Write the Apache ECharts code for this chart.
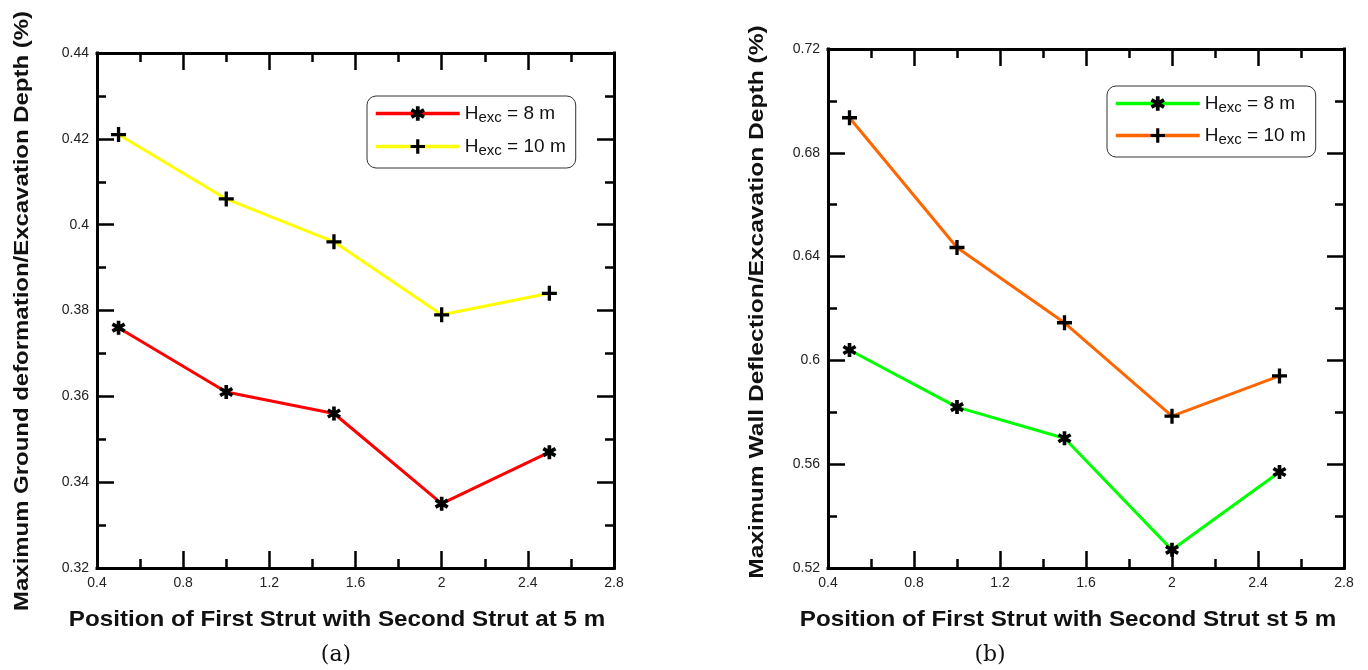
<!DOCTYPE html>
<html>
<head>
<meta charset="utf-8">
<script src="https://cdn.jsdelivr.net/npm/echarts@6/dist/echarts.min.js"></script>
<style>
html,body{margin:0;padding:0;background:#fff;}
#chart{width:1368px;height:670px;}
</style>
</head>
<body>
<div id="chart"></div>
<script>
// ---- data ----
var strutPos = [0.5, 1.0, 1.5, 2.0, 2.5];
var groundH8  = [0.376, 0.361, 0.356, 0.335, 0.347];
var groundH10 = [0.421, 0.406, 0.396, 0.379, 0.384];
var wallH8    = [0.604, 0.582, 0.570, 0.527, 0.557];
var wallH10   = [0.6935, 0.6435, 0.6145, 0.5785, 0.594];
var legendLabels = { a8: '8 m', a10: '10 m', b8: '8 m', b10: '10 m' };
var xTitleA = 'Position of First Strut with Second Strut at 5 m';
var xTitleB = 'Position of First Strut with Second Strut st 5 m';
var yTitleA = 'Maximum Ground deformation/Excavation Depth (%)';
var yTitleB = 'Maximum Wall Deflection/Excavation Depth (%)';

function pairs(xs, ys) { return xs.map(function (x, i) { return [x, ys[i]]; }); }

var FONT = '"Liberation Sans", Arial, sans-serif';
var STAR = 'path://M-1.3,-5 L1.3,-5 L1.3,5 L-1.3,5 Z M4.98,1.37 L3.68,3.62 L-4.98,-1.37 L-3.68,-3.62 Z M-3.68,3.62 L-4.98,1.37 L3.68,-3.62 L4.98,-1.37 Z';
var PLUS = 'path://M-1.1,-5 L1.1,-5 L1.1,-1.1 L5,-1.1 L5,1.1 L1.1,1.1 L1.1,5 L-1.1,5 L-1.1,1.1 L-5,1.1 L-5,-1.1 L-1.1,-1.1 Z';

function fmt(v) { return String(+v.toFixed(2)); }

var lineSt = { color: '#000', width: 3, cap: 'square' };
var tickSt = { color: '#000', width: 2.5 };

function frameAxis(kind, gi, pos, min, max, interval, len, showLine, showLabel) {
  return { type: 'value', gridIndex: gi, position: pos, min: min, max: max, interval: interval,
    splitLine: { show: false },
    axisLine: { show: showLine, onZero: false, lineStyle: lineSt },
    axisTick: { show: true, inside: true, length: len, lineStyle: tickSt },
    axisLabel: showLabel ? { show: true, color: '#222', fontSize: 14, fontFamily: FONT, margin: 8,
      formatter: fmt, showMinLabel: true, showMaxLabel: true } : { show: false } };
}
function xAxes(gi) {
  return [
    frameAxis('x', gi, 'bottom', 0.4, 2.8, 0.4, 17, true, true),
    frameAxis('x', gi, 'top', 0.4, 2.8, 0.4, 17, true, false),
    frameAxis('x', gi, 'bottom', 0.4, 2.8, 0.2, 9, false, false),
    frameAxis('x', gi, 'top', 0.4, 2.8, 0.2, 9, false, false)
  ];
}
function yAxes(gi, min, max, interval) {
  return [
    frameAxis('y', gi, 'left', min, max, interval, 17, true, true),
    frameAxis('y', gi, 'right', min, max, interval, 17, true, false),
    frameAxis('y', gi, 'left', min, max, interval / 2, 9, false, false),
    frameAxis('y', gi, 'right', min, max, interval / 2, 9, false, false)
  ];
}

var xs = xAxes(0).concat(xAxes(1));
var ys = yAxes(0, 0.32, 0.44, 0.02).concat(yAxes(1, 0.52, 0.72, 0.04));

function ser(name, xi, yi, data, color, symbol, size) {
  return { name: name, type: 'line', xAxisIndex: xi, yAxisIndex: yi, data: data,
    symbol: symbol, symbolSize: size, showSymbol: true,
    lineStyle: { color: color, width: 3 },
    itemStyle: { color: '#000' },
    emphasis: { disabled: true }, animation: false, z: 3 };
}

var legendRich = {
  h: { fontSize: 19, fontFamily: FONT, color: '#111' },
  s: { fontSize: 15, fontFamily: FONT, color: '#111', padding: [8, 0, 0, 0] },
  t: { fontSize: 19, fontFamily: FONT, color: '#111' }
};
function legendFmt(name) { return '{h|H}{s|exc}{t| = ' + legendLabels[name] + '}'; }

function legend(data, left, top, gap) {
  return { show: true, data: data, orient: 'vertical', left: left, top: top,
    itemWidth: 84, itemHeight: 18, itemGap: gap,
    padding: [8, 10, 10, 7],
    backgroundColor: '#fff', borderColor: '#333', borderWidth: 1, borderRadius: 9,
    lineStyle: { width: 3.5 },
    formatter: legendFmt, textStyle: { rich: legendRich, fontSize: 19 },
    selectedMode: false };
}

function txt(x, y, text, size, bold, family, rot, sx) {
  return { type: 'text', x: x, y: y, rotation: rot || 0, scaleX: sx || 1,
    style: { text: text, fontSize: size, fontWeight: bold ? 'bold' : 'normal', fontFamily: family, fill: '#111',
      align: 'center', verticalAlign: 'middle', textAlign: 'center', textVerticalAlign: 'middle' } };
}

var option = {
  animation: false,
  backgroundColor: '#fff',
  grid: [
    { left: 97, top: 53, width: 517, height: 515 },
    { left: 828, top: 49, width: 516, height: 519 }
  ],
  xAxis: xs,
  yAxis: ys,
  legend: [
    legend(['a8', 'a10'], 367, 96, 12),
    legend(['b8', 'b10'], 1107, 86, 11)
  ],
  series: [
    ser('a8', 0, 0, pairs(strutPos, groundH8), '#ff0000', STAR, 14),
    ser('a10', 0, 0, pairs(strutPos, groundH10), '#ffff00', PLUS, 15),
    ser('b8', 4, 4, pairs(strutPos, wallH8), '#00ff00', STAR, 14),
    ser('b10', 4, 4, pairs(strutPos, wallH10), '#ff6600', PLUS, 15)
  ],
  graphic: [
    txt(337, 620, xTitleA, 22, true, FONT, 0, 1.1),
    txt(1068, 620, xTitleB, 22, true, FONT, 0, 1.1),
    txt(22, 311, yTitleA, 21, true, FONT, Math.PI / 2, 1.14),
    txt(757, 302, yTitleB, 21, true, FONT, Math.PI / 2, 1.17),
    txt(336, 655, '(a)', 22, false, '"DejaVu Serif", serif'),
    txt(990, 655, '(b)', 22, false, '"DejaVu Serif", serif')
  ]
};

var chart = echarts.init(document.getElementById('chart'), null, { renderer: 'canvas' });
chart.setOption(option);
</script>
</body>
</html>
